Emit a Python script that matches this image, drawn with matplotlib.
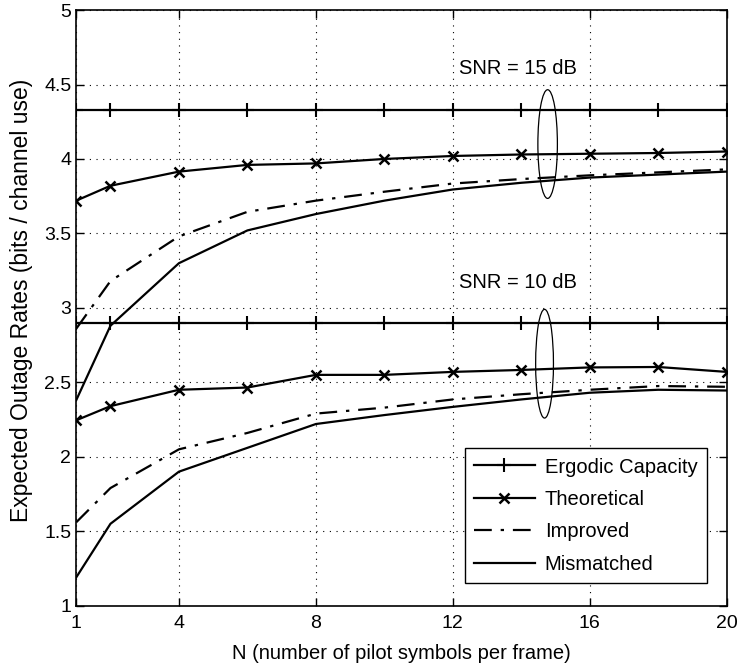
import matplotlib.pyplot as plt
from matplotlib.patches import Ellipse

plt.rcParams['font.family'] = ['Liberation Sans', 'DejaVu Sans']

# 資料
n = [1, 2, 4, 6, 8, 10, 12, 14, 16, 18, 20]

# SNR = 15 dB
erg15 = [4.33] * len(n)
theo15 = [3.72, 3.82, 3.915, 3.96, 3.97, 4.00, 4.02, 4.03, 4.035, 4.04, 4.05]
impr15 = [2.86, 3.18, 3.48, 3.645, 3.72, 3.78, 3.835, 3.865, 3.89, 3.91, 3.93]
mism15 = [2.38, 2.88, 3.30, 3.52, 3.63, 3.72, 3.795, 3.84, 3.875, 3.895, 3.915]

# SNR = 10 dB
erg10 = [2.896] * len(n)
theo10 = [2.245, 2.34, 2.45, 2.465, 2.55, 2.55, 2.57, 2.583, 2.60, 2.603, 2.57]
impr10 = [1.56, 1.79, 2.05, 2.16, 2.29, 2.33, 2.385, 2.42, 2.45, 2.475, 2.47]
mism10 = [1.19, 1.55, 1.90, 2.06, 2.22, 2.28, 2.335, 2.385, 2.43, 2.45, 2.445]

xticks = [1, 4, 8, 12, 16, 20]

fig = plt.figure(figsize=(7.4, 6.7), dpi=100)
ax = fig.add_axes([0.103, 0.096, 0.879, 0.889])

dashdot = (0, (8, 4, 1.5, 4))
lw = 1.6

ax.plot(n, erg15, color='black', lw=lw, marker='+', ms=10, mew=1.5, label='Ergodic Capacity')
ax.plot(n, theo15, color='black', lw=lw, marker='x', ms=7, mew=1.8, label='Theoretical')
ax.plot(n, impr15, color='black', lw=lw, linestyle=dashdot, label='Improved')
ax.plot(n, mism15, color='black', lw=lw, label='Mismatched')

ax.plot(n, erg10, color='black', lw=lw, marker='+', ms=10, mew=1.5)
ax.plot(n, theo10, color='black', lw=lw, marker='x', ms=7, mew=1.8)
ax.plot(n, impr10, color='black', lw=lw, linestyle=dashdot)
ax.plot(n, mism10, color='black', lw=lw)

# 橢圓標註
ax.add_patch(Ellipse((14.77, 4.10), 0.57, 0.73, fill=False, color='black', lw=0.9))
ax.add_patch(Ellipse((14.68, 2.625), 0.52, 0.73, fill=False, color='black', lw=0.9))
ax.text(12.18, 4.61, 'SNR = 15 dB', fontsize=14.5, va='center')
ax.text(12.18, 3.167, 'SNR = 10 dB', fontsize=14.5, va='center')

ax.set_xlim(1, 20)
ax.set_ylim(1, 5)
ax.set_xticks(xticks)
ax.set_yticks([1, 1.5, 2, 2.5, 3, 3.5, 4, 4.5, 5])
ax.set_yticklabels(['1', '1.5', '2', '2.5', '3', '3.5', '4', '4.5', '5'])
ax.tick_params(direction='in', top=True, right=True, labelsize=14, length=6, width=1)
ax.tick_params(axis='x', pad=7)
ax.grid(True, linestyle=(0, (1, 5)), color='black', lw=0.8)
for s in ax.spines.values():
    s.set_linewidth(1.2)

ax.set_xlabel('N (number of pilot symbols per frame)', fontsize=14.5, labelpad=8)
ax.set_ylabel('Expected Outage Rates (bits / channel use)', fontsize=16.5)
ax.yaxis.set_label_coords(-0.067, 0.513)

leg = ax.legend(loc='lower right', bbox_to_anchor=(0.969, 0.038), borderaxespad=0,
                fontsize=14.5, handlelength=3.0, handletextpad=0.5, fancybox=False,
                edgecolor='black', framealpha=1, borderpad=0.45, labelspacing=0.67)
leg.get_frame().set_linewidth(1.0)

plt.savefig('out.png', dpi=100)
